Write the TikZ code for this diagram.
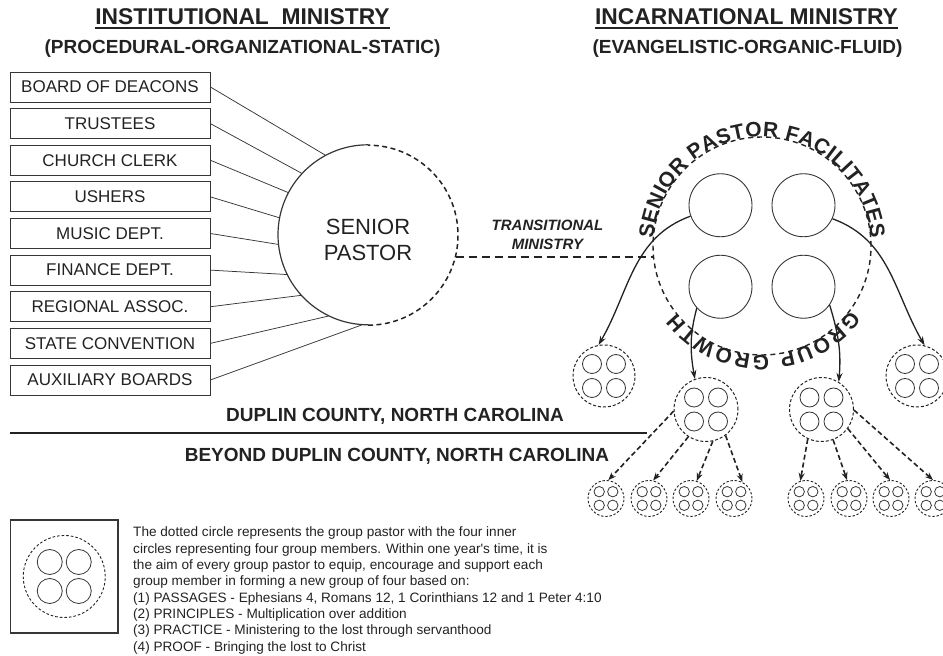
\documentclass[tikz,border=0pt]{standalone}
\usepackage{fontspec}
\setmainfont{Liberation Sans}
\usetikzlibrary{arrows.meta,decorations.text}
\definecolor{ink}{HTML}{222222}
\definecolor{rule}{HTML}{363636}

% a dashed group circle with its four member circles
% #1 name, #2 x, #3 y, #4 ring diameter, #5 member offset, #6 member diameter, #7 ring style
\newcommand\groupcell[7]{%
  \node[#7, minimum size=#4] (#1) at (#2,#3) {};
  \foreach \dx/\dy/\k in {-1/1/a, 1/1/b, -1/-1/c, 1/-1/d}
    \node[member, minimum size=#6] (#1-\k) at ({#2+(\dx)*#5},{#3+(\dy)*#5}) {};
}

\begin{document}
\begin{tikzpicture}[x=1pt,y=1pt,
  title/.style={inner sep=0pt, anchor=base, text=ink, font=\fontsize{22.8}{24}\selectfont\bfseries},
  subtitle/.style={inner sep=0pt, anchor=base, text=ink, font=\fontsize{19}{20}\selectfont\bfseries},
  orgbox/.style={draw=rule, line width=0.8pt, minimum width=200pt, minimum height=30pt,
    inner sep=0pt, text=ink, font=\fontsize{17}{17}\selectfont},
  spoke/.style={draw=rule, line width=0.75pt},
  member/.style={circle, draw=rule, line width=0.8pt, inner sep=0pt},
  bigring/.style={circle, draw=ink, line width=1.4pt, dash pattern=on 5pt off 4pt, inner sep=0pt},
  groupring/.style={circle, draw=ink, line width=1pt, dash pattern=on 3pt off 2pt, inner sep=0pt},
  smallring/.style={circle, draw=ink, line width=0.9pt, dash pattern=on 2.4pt off 1.8pt, inner sep=0pt},
  keyring/.style={circle, draw=ink, line width=0.9pt, dash pattern=on 2.6pt off 2pt, inner sep=0pt},
  pastordash/.style={draw=ink, line width=1.5pt, dash pattern=on 5pt off 3.5pt},
  transdash/.style={draw=ink, line width=1.8pt, dash pattern=on 8pt off 5pt},
  growth/.style={draw=ink, line width=1.3pt, -{Stealth[length=9pt,width=6pt]}},
  spread/.style={draw=ink, line width=1.6pt, dash pattern=on 5pt off 3pt, -{Stealth[length=8pt,width=6pt]}},
  region/.style={inner sep=0pt, anchor=base, text=ink, font=\fontsize{19}{20}\selectfont\bfseries},
  keyline/.style={inner sep=0pt, anchor=base west, text=ink, font=\fontsize{13.6}{16}\selectfont},
  arcword/.style={decorate, decoration={text along path, text align={fit to path}, text color=ink}}
]
\useasboundingbox (0,0) rectangle (943,656);

% headings
\node[title] (t1) at (242.5,631) {INSTITUTIONAL\ \ MINISTRY};
\draw[ink, line width=1.8pt] ([yshift=-2.8pt]t1.base west) -- ([yshift=-2.8pt]t1.base east);
\node[subtitle] (st1) at (242.5,602.5) {(PROCEDURAL-ORGANIZATIONAL-STATIC)};
\node[title] (t2) at (746.5,631) {INCARNATIONAL MINISTRY};
\draw[ink, line width=1.8pt] ([yshift=-2.8pt]t2.base west) -- ([yshift=-2.8pt]t2.base east);
\node[subtitle] (st2) at (747.5,602.5) {(EVANGELISTIC-ORGANIC-FLUID)};

% committees
\foreach \txt [count=\i] in {BOARD OF DEACONS, TRUSTEES, CHURCH CLERK, USHERS, MUSIC DEPT.,
    FINANCE DEPT., REGIONAL ASSOC., STATE CONVENTION, AUXILIARY BOARDS}
  \node[orgbox] (b\i) at (110,{569-36.625*(\i-1)}) {\txt};

% senior pastor: solid towards the committees, dashed towards the groups
\node[circle, inner sep=0pt, minimum size=180pt] (sp) at (368,421) {};
\draw[rule, line width=1.2pt] (sp.north) arc[start angle=90, end angle=270, radius=90pt];
\draw[pastordash] (sp.south) arc[start angle=-90, end angle=90, radius=90pt];
\node[text=ink, align=center, font=\fontsize{22}{26}\selectfont] (spt) at (368,416.5) {SENIOR\\PASTOR};

\foreach \i/\a in {1/118, 2/137, 3/152, 4/169, 5/186, 6/206, 7/222, 8/244, 9/266}
  \draw[spoke] (b\i.east) -- (sp.\a);

% incarnational circle with its four members
\node[bigring, minimum size=218pt] (bc) at (762,410) {};
\node[member, line width=0.9pt, minimum size=63pt] (c1) at (720.5,450.75) {};
\node[member, line width=0.9pt, minimum size=63pt] (c2) at (803.5,450.75) {};
\node[member, line width=0.9pt, minimum size=63pt] (c3) at (720.5,369.25) {};
\node[member, line width=0.9pt, minimum size=63pt] (c4) at (803.5,369.25) {};

\path[arcword, decoration={text={|\fontsize{21}{21}\selectfont\bfseries|SENIOR PASTOR FACILITATES}}]
  ([shift={(176:109pt)}]bc.center) arc[start angle=176, end angle=4, radius=109pt];
\path[arcword, decoration={text={|\fontsize{21}{21}\selectfont\bfseries|GROUP GROWTH}}]
  ([shift={(-36:109pt)}]bc.center) arc[start angle=-36, end angle=-142, radius=109pt];

% transitional ministry
\node[text=ink, align=center, font=\fontsize{15}{19}\selectfont\bfseries\itshape] (tm) at (547.5,421.3) {TRANSITIONAL\\MINISTRY};
\draw[transdash] (sp.-14.5) -- (sp.-14.5 -| bc.185.85);

% new groups
\groupcell{gW}{604}{280}{62pt}{12}{19pt}{groupring}
\groupcell{gL}{706}{246.5}{64pt}{12}{19pt}{groupring}
\groupcell{gR}{821.5}{246.5}{64pt}{12}{19pt}{groupring}
\groupcell{gE}{917}{280}{62pt}{12}{19pt}{groupring}

\draw[growth] (c1.200) to[out=200, in=60] (gW.100);
\draw[growth] (c2.-25) to[out=-20, in=120] (gE.76);
\draw[growth] (c3.222) to[out=255, in=100] (gL.110);
\draw[growth] (c4.-35) to[out=-73, in=85] (gR.58);

% second generation groups
\foreach \x [count=\i] in {606, 649, 691, 734, 806, 849, 891, 933}
  \groupcell{s\i}{\x}{157.5}{36pt}{6.8}{10.4pt}{smallring};

\foreach \f/\fa/\t/\ta in {gL/183/s1/83, gL/237/s2/77, gL/282/s3/72, gL/307/s4/63,
    gR/245/s5/108, gR/291/s6/96, gR/324/s7/93, gR/359/s8/90}
  \draw[spread] (\f.\fa) -- (\t.\ta);

% regions
\node[region] (r1) at (395,234.2) {DUPLIN COUNTY, NORTH CAROLINA};
\coordinate (dl) at (10,222.5);
\coordinate (dr) at (647,222.5);
\draw[ink, line width=2pt] (dl) -- (dr);
\node[region] (r2) at (397,194.2) {BEYOND DUPLIN COUNTY, NORTH CAROLINA};

% key
\node[draw=rule, line width=1.2pt, minimum width=107.5pt, minimum height=113pt, inner sep=0pt] (key) at (64.25,79.5) {};
\groupcell{kc}{64.25}{79.5}{82pt}{14.5}{25pt}{keyring}

\node[keyline] (k1) at (133,119) {The dotted circle represents the group pastor with the four inner};
\node[keyline] (k2) at (133,102.7) {circles representing four group members. Within one year\textquotesingle s time, it is};
\node[keyline] (k3) at (133,86.4) {the aim of every group pastor to equip, encourage and support each};
\node[keyline] (k4) at (133,70.1) {group member in forming a new group of four based on:};
\node[keyline] (k5) at (133,53.8) {(1) PASSAGES - Ephesians 4, Romans 12, 1 Corinthians 12 and 1 Peter 4:10};
\node[keyline] (k6) at (133,37.5) {(2) PRINCIPLES - Multiplication over addition};
\node[keyline] (k7) at (133,21.2) {(3) PRACTICE - Ministering to the lost through servanthood};
\node[keyline] (k8) at (133,4.9) {(4) PROOF - Bringing the lost to Christ};
\end{tikzpicture}
\end{document}
